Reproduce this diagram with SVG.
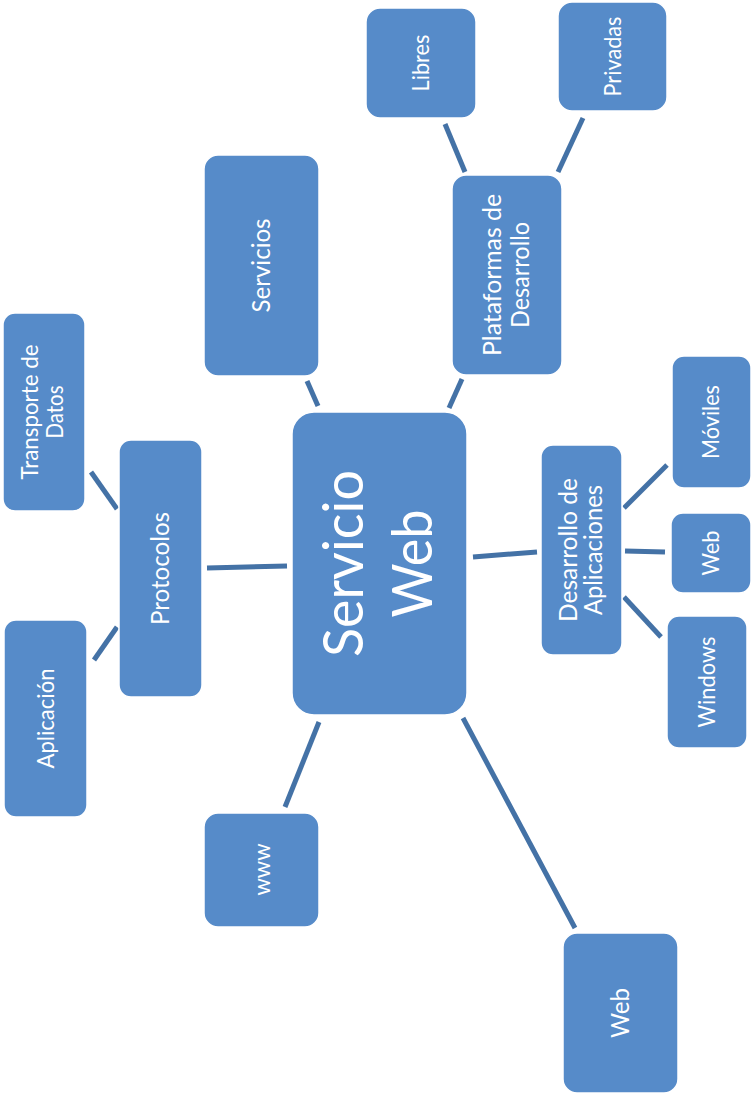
<svg xmlns="http://www.w3.org/2000/svg" width="751" height="1095" viewBox="0 0 751 1095">
  <style>
    .box { fill: #568BC9; stroke: #ffffff; stroke-width: 1.5; }
    .lbl { fill: #ffffff; font-family: Lato, "Open Sans", "Liberation Sans", sans-serif; text-anchor: middle; }
    .l2 { font-size: 25px; }
    .l3 { font-size: 22.5px; }
    .hub { font-size: 56px; }
    .link { stroke: #4472A6; stroke-width: 5; fill: none; stroke-linecap: butt; }
  </style>

  <!-- connectors -->
  <g id="connectors">
    <line class="link" x1="307" y1="381" x2="318" y2="406"/>
    <line class="link" x1="462" y1="379" x2="449" y2="408"/>
    <line class="link" x1="445" y1="124" x2="465" y2="172"/>
    <line class="link" x1="583" y1="118" x2="558" y2="172"/>
    <line class="link" x1="473" y1="557" x2="537" y2="552"/>
    <line class="link" x1="624" y1="508" x2="667" y2="465"/>
    <line class="link" x1="625" y1="551" x2="665" y2="552"/>
    <line class="link" x1="624" y1="597" x2="661" y2="637"/>
    <line class="link" x1="463" y1="718" x2="575" y2="928"/>
    <line class="link" x1="319" y1="722" x2="285" y2="807"/>
    <line class="link" x1="207" y1="568" x2="287" y2="566"/>
    <line class="link" x1="91" y1="472" x2="117" y2="509"/>
    <line class="link" x1="94" y1="660" x2="117" y2="627"/>
  </g>

  <!-- central node -->
  <g id="servicio-web">
    <rect class="box" x="292" y="412" width="175" height="303" rx="22"/>
    <g transform="translate(379.5,563.5) rotate(-90)">
      <text class="lbl hub" x="0" y="-17" textLength="187" lengthAdjust="spacingAndGlyphs">Servicio</text>
      <text class="lbl hub" x="0" y="52" textLength="108" lengthAdjust="spacingAndGlyphs">Web</text>
    </g>
  </g>

  <g id="servicios">
    <rect class="box" x="204" y="155" width="115" height="221" rx="14"/>
    <text class="lbl l2" transform="translate(261.5,265.5) rotate(-90)" x="0" y="8.5" textLength="94" lengthAdjust="spacingAndGlyphs">Servicios</text>
  </g>

  <g id="plataformas">
    <rect class="box" x="452" y="175" width="110" height="200" rx="14"/>
    <g transform="translate(507,275) rotate(-90)">
      <text class="lbl l2" x="0" y="-6" textLength="162" lengthAdjust="spacingAndGlyphs">Plataformas de</text>
      <text class="lbl l2" x="0" y="22" textLength="106" lengthAdjust="spacingAndGlyphs">Desarrollo</text>
    </g>
  </g>

  <g id="libres">
    <rect class="box" x="366" y="8" width="110" height="110" rx="14"/>
    <text class="lbl l3" transform="translate(421,63) rotate(-90)" x="0" y="8" textLength="57" lengthAdjust="spacingAndGlyphs">Libres</text>
  </g>

  <g id="privadas">
    <rect class="box" x="558" y="2" width="109" height="109" rx="14"/>
    <text class="lbl l3" transform="translate(612.5,56.5) rotate(-90)" x="0" y="8" textLength="80" lengthAdjust="spacingAndGlyphs">Privadas</text>
  </g>

  <g id="desarrollo">
    <rect class="box" x="541" y="445" width="81" height="210" rx="12"/>
    <g transform="translate(581.5,550) rotate(-90)">
      <text class="lbl l2" x="0" y="-4.5" textLength="144" lengthAdjust="spacingAndGlyphs">Desarrollo de</text>
      <text class="lbl l2" x="0" y="20.5" textLength="130" lengthAdjust="spacingAndGlyphs">Aplicaciones</text>
    </g>
  </g>

  <g id="moviles">
    <rect class="box" x="672" y="356" width="79" height="132" rx="12"/>
    <text class="lbl l3" transform="translate(711,422) rotate(-90)" x="0" y="8" textLength="74" lengthAdjust="spacingAndGlyphs">Móviles</text>
  </g>

  <g id="web-app">
    <rect class="box" x="671" y="513" width="80" height="80" rx="12"/>
    <text class="lbl l3" transform="translate(710.5,553) rotate(-90)" x="0" y="8" textLength="45" lengthAdjust="spacingAndGlyphs">Web</text>
  </g>

  <g id="windows">
    <rect class="box" x="667" y="616" width="80" height="132" rx="12"/>
    <text class="lbl l3" transform="translate(707,682) rotate(-90)" x="0" y="8" textLength="91" lengthAdjust="spacingAndGlyphs">Windows</text>
  </g>

  <g id="web">
    <rect class="box" x="563" y="933" width="115" height="160" rx="14"/>
    <text class="lbl l2" transform="translate(620.5,1013) rotate(-90)" x="0" y="8.5" textLength="50" lengthAdjust="spacingAndGlyphs">Web</text>
  </g>

  <g id="www">
    <rect class="box" x="204" y="813" width="115" height="114" rx="14"/>
    <text class="lbl l3" transform="translate(261.5,869.5) rotate(-90)" x="0" y="8" textLength="52" lengthAdjust="spacingAndGlyphs">www</text>
  </g>

  <g id="protocolos">
    <rect class="box" x="119" y="440" width="83" height="257" rx="12"/>
    <text class="lbl l2" transform="translate(160.5,568.5) rotate(-90)" x="0" y="8.5" textLength="113" lengthAdjust="spacingAndGlyphs">Protocolos</text>
  </g>

  <g id="transporte">
    <rect class="box" x="3" y="313" width="82" height="198" rx="12"/>
    <g transform="translate(44,412) rotate(-90)">
      <text class="lbl l3" x="0" y="-6" textLength="135" lengthAdjust="spacingAndGlyphs">Transporte de</text>
      <text class="lbl l3" x="0" y="19" textLength="53" lengthAdjust="spacingAndGlyphs">Datos</text>
    </g>
  </g>

  <g id="aplicacion">
    <rect class="box" x="4" y="620" width="83" height="197" rx="12"/>
    <text class="lbl l3" transform="translate(45.5,718.5) rotate(-90)" x="0" y="8" textLength="100" lengthAdjust="spacingAndGlyphs">Aplicación</text>
  </g>
</svg>
